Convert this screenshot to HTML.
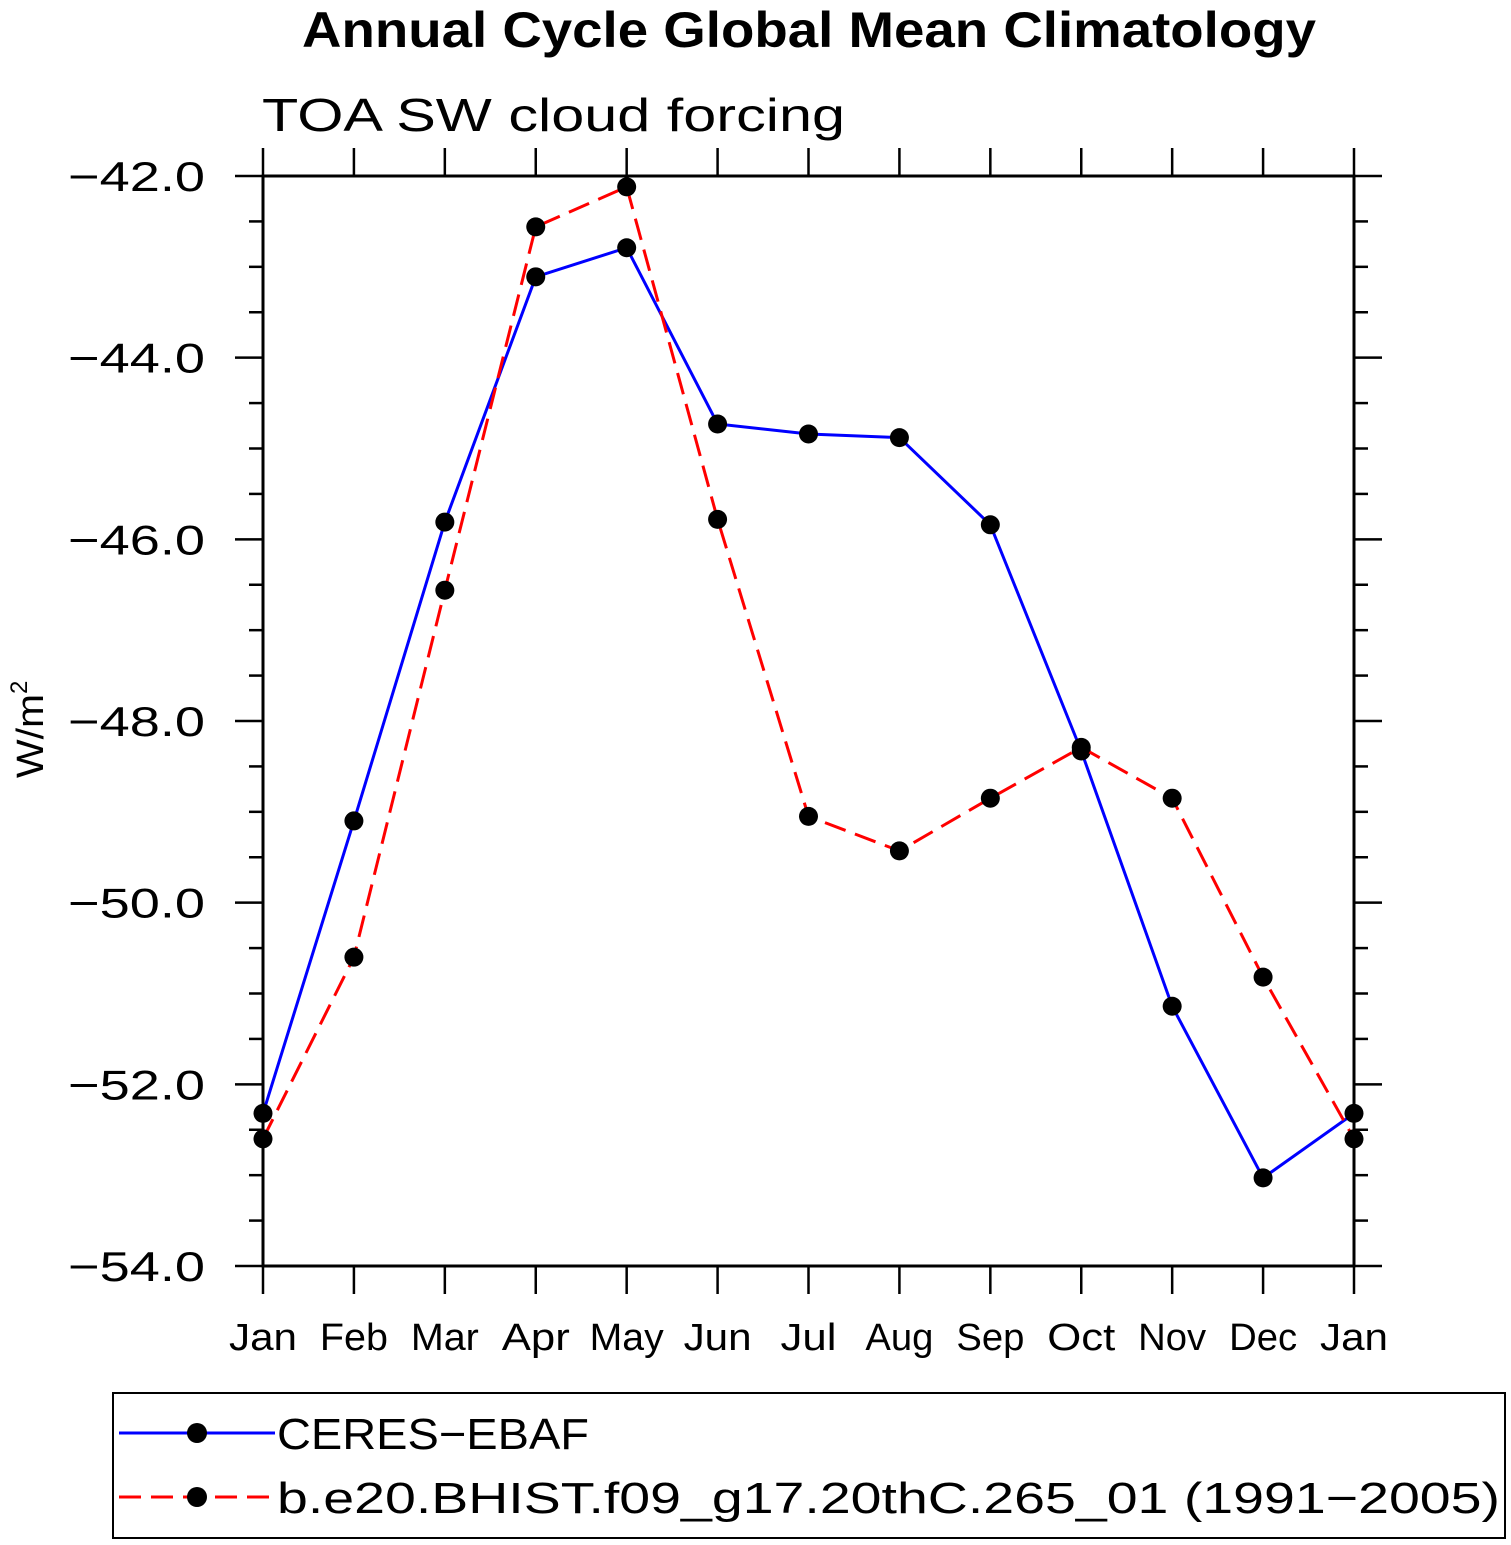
<!DOCTYPE html>
<html><head><meta charset="utf-8"><style>
body{margin:0;background:#fff}
svg{display:block;font-family:"Liberation Sans",sans-serif}
</style></head><body>
<svg id="chart" width="1511" height="1545" viewBox="0 0 1511 1545">
<text x="302" y="47" font-size="50" font-weight="bold" textLength="1014" lengthAdjust="spacingAndGlyphs">Annual Cycle Global Mean Climatology</text>
<text x="262" y="131" font-size="46" textLength="583" lengthAdjust="spacingAndGlyphs">TOA SW cloud forcing</text>
<text transform="translate(43,778) rotate(-90)" font-size="38"><tspan textLength="84" lengthAdjust="spacingAndGlyphs">W/m</tspan><tspan dy="-16" font-size="24">2</tspan></text>
<g id="axes"></g>
<g id="series"></g>
<rect x="113" y="1393" width="1392" height="145" fill="none" stroke="#000" stroke-width="2"/>
<g>
<line x1="119" y1="1433" x2="275" y2="1433" stroke="#0000ff" stroke-width="3"/>
<circle cx="197" cy="1433" r="10"/>
<text x="277" y="1449" font-size="44" textLength="312" lengthAdjust="spacingAndGlyphs">CERES−EBAF</text>
</g>
<g>
<line x1="119" y1="1497" x2="275" y2="1497" stroke="#ff0000" stroke-width="3" stroke-dasharray="22,10"/>
<circle cx="197" cy="1497" r="10"/>
<text x="277" y="1513" font-size="44" textLength="1223" lengthAdjust="spacingAndGlyphs">b.e20.BHIST.f09_g17.20thC.265_01 (1991−2005)</text>
</g>
</svg>
<script>
const months = ["Jan","Feb","Mar","Apr","May","Jun","Jul","Aug","Sep","Oct","Nov","Dec","Jan"];
const ceresValues = [-52.32,-49.10,-45.81,-43.11,-42.79,-44.73,-44.84,-44.88,-45.84,-48.33,-51.14,-53.03,-52.32];
const modelValues = [-52.60,-50.60,-46.56,-42.56,-42.12,-45.78,-49.05,-49.43,-48.85,-48.29,-48.85,-50.82,-52.60];
const yTickValues = [-42,-44,-46,-48,-50,-52,-54];
const yTickLabels = ["−42.0","−44.0","−46.0","−48.0","−50.0","−52.0","−54.0"];

const NS = "http://www.w3.org/2000/svg";
const X0=263, X1=1354, Y0=176, Y1=1266, YMAX=-42, YMIN=-54;
function xs(i){return X0+(X1-X0)*i/(months.length-1);}
function ys(v){return Y0+(YMAX-v)/(YMAX-YMIN)*(Y1-Y0);}
function mk(tag,attrs,parent){const e=document.createElementNS(NS,tag);for(const k in attrs)e.setAttribute(k,attrs[k]);parent.appendChild(e);return e;}
const axes=document.getElementById('axes'), ser=document.getElementById('series');

const frame=mk('rect',{x:X0,y:Y0,width:X1-X0,height:Y1-Y0,fill:'none',stroke:'#000','stroke-width':3},axes);



for(let v=YMAX; v>=YMIN-1e-9; v-=0.5){
  const y=ys(v); const major=Math.abs(v/2-Math.round(v/2))<1e-6;
  const len=major?28:14;
  const t1=mk('line',{x1:X0-len,y1:y,x2:X0,y2:y,stroke:'#000','stroke-width':2.5},axes);
  
  
  const t2=mk('line',{x1:X1,y1:y,x2:X1+len,y2:y,stroke:'#000','stroke-width':2.5},axes);
  
  
}
yTickValues.forEach((v,i)=>{
  const t=mk('text',{x:68,y:ys(v)+15,'font-size':42,textLength:137,lengthAdjust:'spacingAndGlyphs'},axes);
  t.textContent=yTickLabels[i];
  
  
});
months.forEach((m,i)=>{
  const x=xs(i);
  const a=mk('line',{x1:x,y1:Y0-28,x2:x,y2:Y0,stroke:'#000','stroke-width':2.5},axes);
  
  
  const b=mk('line',{x1:x,y1:Y1,x2:x,y2:Y1+28,stroke:'#000','stroke-width':2.5},axes);
  
  
  const w=(m==="Jul")?56:(m==="May"?74:68);
  const t=mk('text',{x:x-w/2,y:1350,'font-size':38,textLength:w,lengthAdjust:'spacingAndGlyphs'},axes);
  t.textContent=m;
  
  
});
function series(vals,color,dash,name){
  const pts=vals.map((v,i)=>xs(i)+','+ys(v)).join(' ');
  const attrs={points:pts,fill:'none',stroke:color,'stroke-width':3};
  if(dash)attrs['stroke-dasharray']=dash;
  const pl=mk('polyline',attrs,ser);
  
  
  vals.forEach((v,i)=>{
    const c=mk('circle',{cx:xs(i),cy:ys(v),r:9.5,fill:'#000'},ser);
    
    
  });
}
series(ceresValues,'#0000ff',null,'ceres');
series(modelValues,'#ff0000','22,10','model');
</script>
</body></html>
